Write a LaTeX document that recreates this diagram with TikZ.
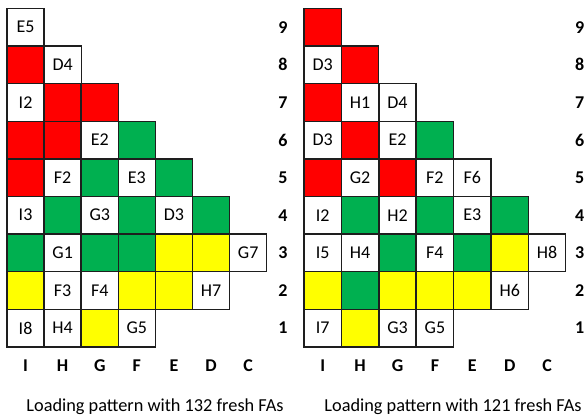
\documentclass[tikz,border=0pt]{standalone}
\usepackage{fontspec}
\setmainfont{Carlito}
\definecolor{cred}{HTML}{FF0000}
\definecolor{cgreen}{HTML}{00B050}
\definecolor{cyellow}{HTML}{FFFF00}
\definecolor{cline}{HTML}{1E1E1E}
\tikzset{
  cell/.style={draw=cline, line width=1.4pt, minimum width=37.2pt, minimum height=37.6pt, inner sep=0pt, font=\fontsize{18}{18}\selectfont},
  axlab/.style={font=\bfseries\fontsize{18}{18}\selectfont, inner sep=0pt},
  caption/.style={font=\fontsize{18.3}{19}\selectfont, inner sep=0pt}
}
\begin{document}
\begin{tikzpicture}[x=1pt,y=-1pt]
\useasboundingbox (0,0) rectangle (585,416);
% left grid
\foreach \c/\r/\f/\t in {
 0/9/white/E5,
 0/8/cred/, 1/8/white/D4,
 0/7/white/I2, 1/7/cred/, 2/7/cred/,
 0/6/cred/, 1/6/cred/, 2/6/white/E2, 3/6/cgreen/,
 0/5/cred/, 1/5/white/F2, 2/5/cgreen/, 3/5/white/E3, 4/5/cgreen/,
 0/4/white/I3, 1/4/cgreen/, 2/4/white/G3, 3/4/cgreen/, 4/4/white/D3, 5/4/cgreen/,
 0/3/cgreen/, 1/3/white/G1, 2/3/cgreen/, 3/3/cgreen/, 4/3/cyellow/, 5/3/cyellow/, 6/3/white/G7,
 0/2/cyellow/, 1/2/white/F3, 2/2/white/F4, 3/2/cyellow/, 4/2/cyellow/, 5/2/white/H7,
 0/1/white/I8, 1/1/white/H4, 2/1/cyellow/, 3/1/white/G5}
{
 \node[cell, fill=\f] (L-\c-\r) at ({7+37.1*(\c+0.5)}, {8.4+37.6*(9-\r+0.5)}) {\t};
}
% right grid
\foreach \c/\r/\f/\t in {
 0/9/cred/,
 0/8/white/D3, 1/8/cred/,
 0/7/cred/, 1/7/white/H1, 2/7/white/D4,
 0/6/white/D3, 1/6/cred/, 2/6/white/E2, 3/6/cgreen/,
 0/5/cred/, 1/5/white/G2, 2/5/cred/, 3/5/white/F2, 4/5/white/F6,
 0/4/white/I2, 1/4/cgreen/, 2/4/white/H2, 3/4/cgreen/, 4/4/white/E3, 5/4/cgreen/,
 0/3/white/I5, 1/3/white/H4, 2/3/cgreen/, 3/3/white/F4, 4/3/cgreen/, 5/3/cyellow/, 6/3/white/H8,
 0/2/cyellow/, 1/2/cgreen/, 2/2/cyellow/, 3/2/cyellow/, 4/2/cyellow/, 5/2/white/H6,
 0/1/white/I7, 1/1/cyellow/, 2/1/white/G3, 3/1/white/G5}
{
 \node[cell, fill=\f] (R-\c-\r) at ({304+37.4*(\c+0.5)}, {8.4+37.6*(9-\r+0.5)}) {\t};
}
% row labels
\foreach \r in {1,...,9} {
 \node[axlab] (LR-\r) at (283, {8.4+37.6*(9-\r+0.5)}) {\r};
 \node[axlab, anchor=east] (RR-\r) at (584.5, {8.4+37.6*(9-\r+0.5)}) {\r};
}
% column labels
\foreach \l [count=\i from 0] in {I,H,G,F,E,D,C} {
 \node[axlab] (LC-\l) at ({7+37.1*(\i+0.5)}, 366) {\l};
 \node[axlab] (RC-\l) at ({304+37.4*(\i+0.5)}, 366) {\l};
}
\node[caption] (capL) at (155, 406.5) {Loading pattern with 132 fresh FAs};
\node[caption] (capR) at (453, 406.5) {Loading pattern with 121 fresh FAs};
\end{tikzpicture}
\end{document}
